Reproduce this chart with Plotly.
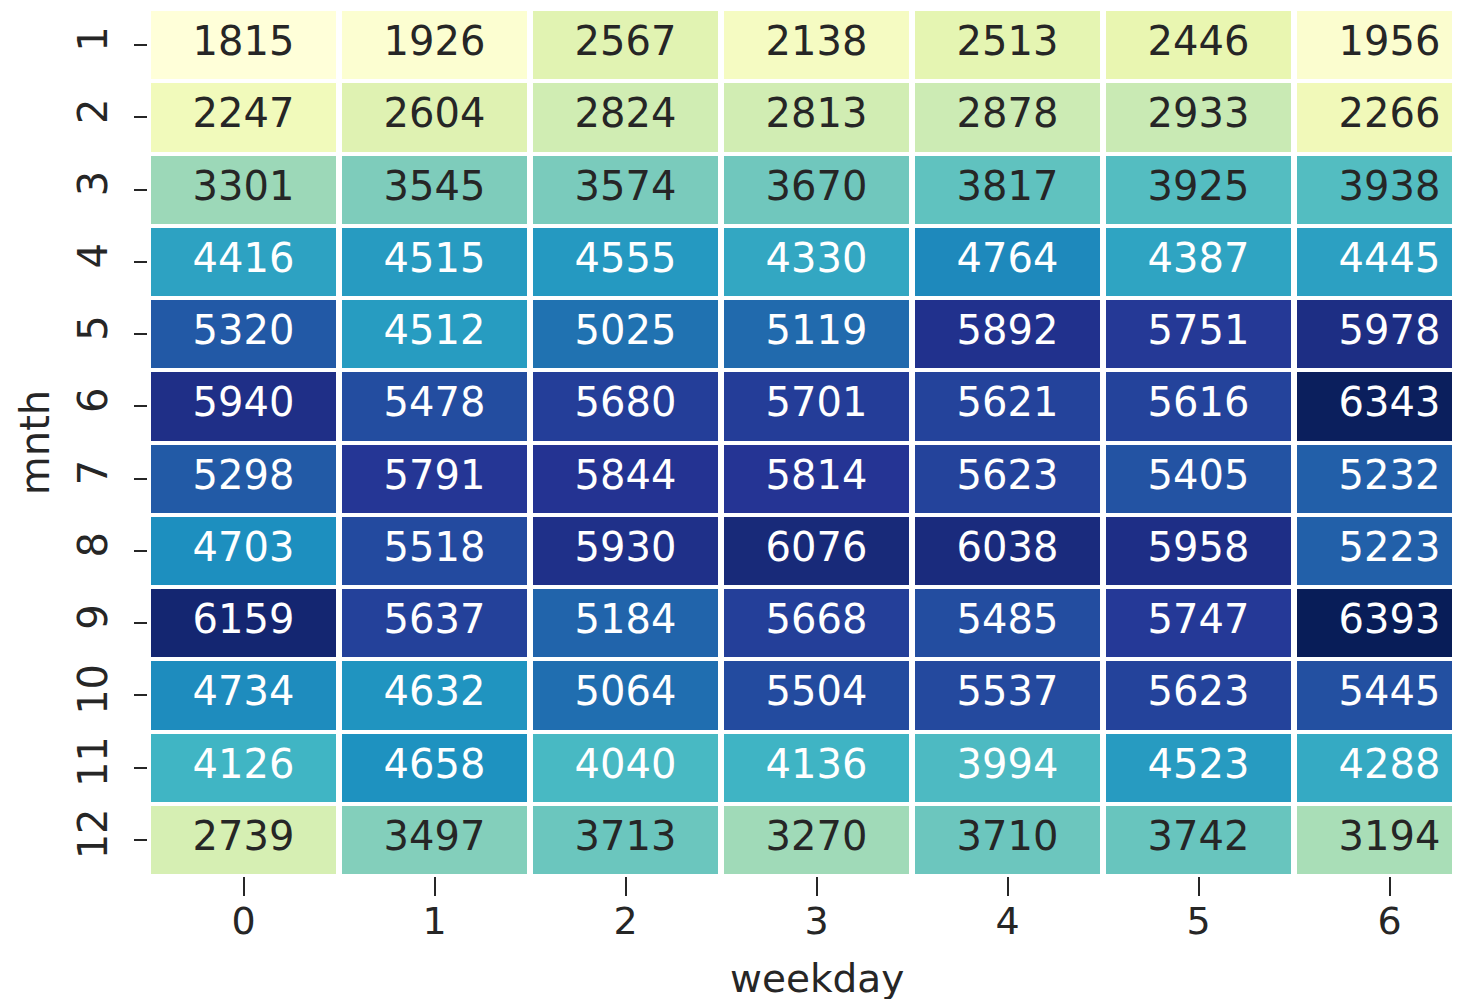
import plotly.graph_objects as go

weekdays = [0, 1, 2, 3, 4, 5, 6]
months = [1, 2, 3, 4, 5, 6, 7, 8, 9, 10, 11, 12]
counts = [
    [1815, 1926, 2567, 2138, 2513, 2446, 1956],
    [2247, 2604, 2824, 2813, 2878, 2933, 2266],
    [3301, 3545, 3574, 3670, 3817, 3925, 3938],
    [4416, 4515, 4555, 4330, 4764, 4387, 4445],
    [5320, 4512, 5025, 5119, 5892, 5751, 5978],
    [5940, 5478, 5680, 5701, 5621, 5616, 6343],
    [5298, 5791, 5844, 5814, 5623, 5405, 5232],
    [4703, 5518, 5930, 6076, 6038, 5958, 5223],
    [6159, 5637, 5184, 5668, 5485, 5747, 6393],
    [4734, 4632, 5064, 5504, 5537, 5623, 5445],
    [4126, 4658, 4040, 4136, 3994, 4523, 4288],
    [2739, 3497, 3713, 3270, 3710, 3742, 3194],
]

ylgnbu = ["#ffffd9", "#edf8b1", "#c7e9b4", "#7fcdbb", "#41b6c4",
          "#1d91c0", "#225ea8", "#253494", "#081d58"]
colorscale = [[i / (len(ylgnbu) - 1), c] for i, c in enumerate(ylgnbu)]

flat = [v for row in counts for v in row]
vmin, vmax = min(flat), max(flat)


def hex2rgb(h):
    h = h.lstrip("#")
    return [int(h[i:i + 2], 16) / 255 for i in (0, 2, 4)]


def color_at(v):
    t = (v - vmin) / (vmax - vmin)
    n = len(ylgnbu) - 1
    i = min(int(t * n), n - 1)
    f = t * n - i
    a, b = hex2rgb(ylgnbu[i]), hex2rgb(ylgnbu[i + 1])
    return [a[k] + (b[k] - a[k]) * f for k in range(3)]


def lum(rgb):
    c = [x / 12.92 if x <= 0.03928 else ((x + 0.055) / 1.055) ** 2.4 for x in rgb]
    return 0.2126 * c[0] + 0.7152 * c[1] + 0.0722 * c[2]


tx, ty, tt, tc = [], [], [], []
for r, m in enumerate(months):
    for c, w in enumerate(weekdays):
        v = counts[r][c]
        tx.append(w)
        ty.append(m)
        tt.append(str(v))
        tc.append("#262626" if lum(color_at(v)) > 0.408 else "#ffffff")

FONT = "DejaVu Sans"
INK = "#262626"

# the reference image crops the last column on the right
W, L = 1444, 140
col_px = 191.0
x_hi = -0.5 + (W - L) / col_px

fig = go.Figure()
fig.add_trace(go.Heatmap(
    z=counts, x=weekdays, y=months, colorscale=colorscale,
    zmin=vmin, zmax=vmax, showscale=False, xgap=6, ygap=4,
    hoverinfo="skip",
))
fig.add_trace(go.Scatter(
    x=tx, y=ty, text=tt, mode="text",
    textfont=dict(family=FONT, size=40, color=tc),
    hoverinfo="skip", showlegend=False, cliponaxis=True,
))

fig.update_layout(
    width=W, height=991,
    margin=dict(l=L, r=0, t=1, b=123),
    plot_bgcolor="white", paper_bgcolor="white",
    font=dict(family=FONT, color=INK),
    showlegend=False,
    annotations=[dict(
        text="weekday", x=(weekdays[0] + weekdays[-1]) / 2, xref="x",
        y=0, yref="paper", yanchor="top", xanchor="center", yshift=-78,
        showarrow=False, font=dict(family=FONT, size=39, color=INK),
    )],
)
fig.update_xaxes(
    tickmode="array", tickvals=weekdays, ticktext=[str(w) for w in weekdays],
    ticks="outside", ticklen=19, tickwidth=2, tickcolor=INK,
    tickfont=dict(size=38), ticklabelstandoff=-8, showgrid=False,
    zeroline=False, showline=False, range=[-0.5, x_hi],
)
fig.update_yaxes(
    tickmode="array", tickvals=months, ticktext=[str(m) for m in months],
    ticks="outside", ticklen=13, tickwidth=2, tickcolor=INK,
    tickfont=dict(size=40), tickangle=-90, ticklabelstandoff=11,
    showgrid=False, zeroline=False, showline=False, range=[12.5, 0.5],
    title=dict(text="mnth", font=dict(size=40), standoff=8),
)

fig.write_html("out.html")
